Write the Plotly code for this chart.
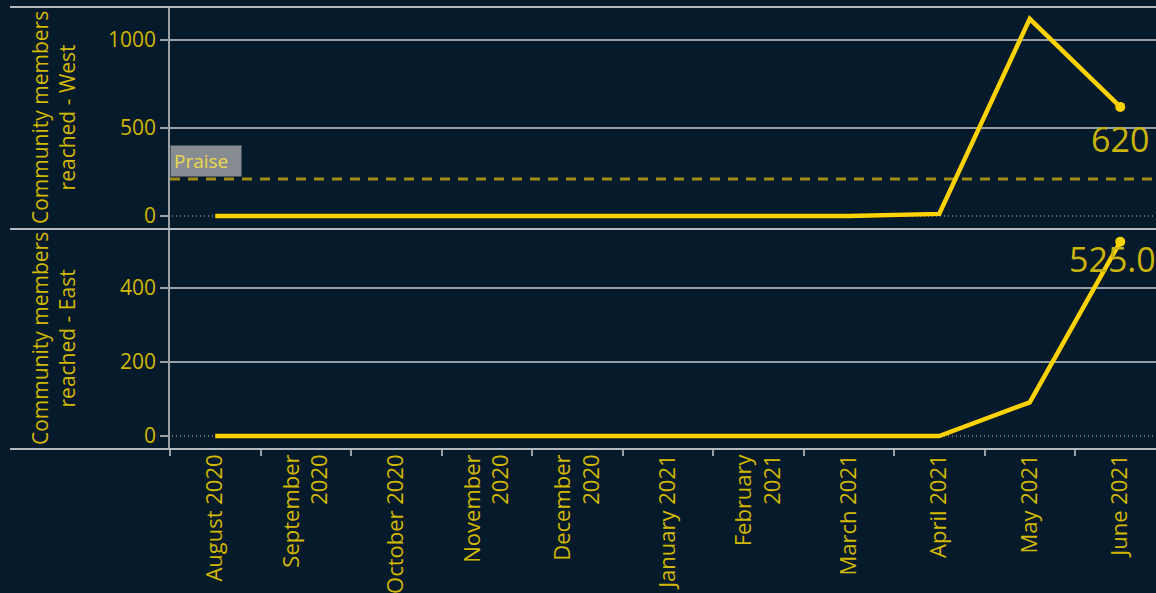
import plotly.graph_objects as go
from plotly.subplots import make_subplots

categories = ["August 2020", "September 2020", "October 2020", "November 2020",
              "December 2020", "January 2021", "February 2021", "March 2021",
              "April 2021", "May 2021", "June 2021"]
tick_labels = ["August 2020", "September<br>2020", "October 2020", "November<br>2020",
               "December<br>2020", "January 2021", "February<br>2021", "March 2021",
               "April 2021", "May 2021", "June 2021"]
west = [0, 0, 0, 0, 0, 0, 0, 0, 12, 1120, 620]
east = [0, 0, 0, 0, 0, 0, 0, 0, 0, 91, 525]
west_ticks = [0, 500, 1000]
east_ticks = [0, 200, 400]
praise_value = 210
west_label = "620"
east_label = "525.0"

BG = "#051a2a"
YEL = "#ffd200"
TXT = "#d2b800"
GRID = "#c9cdd1"
AXC = "#9aa0a6"
FONT = "Open Sans"

W, H = 1156, 593
ml, mr, mt, mb = 170, 0, 7, 144
plot_h = H - mt - mb
split = (449 - 229) / plot_h

fig = make_subplots(rows=2, cols=1, shared_xaxes=True, vertical_spacing=0)

fig.add_trace(go.Scatter(x=categories, y=west, mode="lines",
                         line=dict(color=YEL, width=4.5), hoverinfo="skip"), row=1, col=1)
fig.add_trace(go.Scatter(x=categories[-1:], y=west[-1:], mode="markers",
                         marker=dict(color=YEL, size=10), hoverinfo="skip"), row=1, col=1)
fig.add_trace(go.Scatter(x=categories, y=east, mode="lines",
                         line=dict(color=YEL, width=4.5), hoverinfo="skip"), row=2, col=1)
fig.add_trace(go.Scatter(x=categories[-1:], y=east[-1:], mode="markers",
                         marker=dict(color=YEL, size=10), hoverinfo="skip"), row=2, col=1)

xr = [-0.5, -0.5 + (W - ml - mr) / 90.5]
common_x = dict(type="category", categoryorder="array", categoryarray=categories,
                range=xr, showgrid=False, zeroline=False, showline=False)
fig.update_xaxes(**common_x)
fig.update_xaxes(showticklabels=False, ticks="", row=1, col=1)
fig.update_xaxes(tickmode="array", tickvals=categories, ticktext=tick_labels,
                 tickangle=-90, ticks="outside", tickson="boundaries", ticklen=6,
                 tickcolor=AXC, tickwidth=1.5,
                 tickfont=dict(family=FONT, size=22, color=TXT), row=2, col=1)

common_y = dict(showgrid=False, zeroline=False, showline=True, linecolor=AXC, linewidth=1.5,
                ticks="outside", ticklen=8, tickcolor=AXC, tickwidth=1.5,
                tickfont=dict(family=FONT, size=21, color=TXT))
fig.update_yaxes(range=[-73.9, 1187.5], tickvals=west_ticks, **common_y, row=1, col=1)
fig.update_yaxes(range=[-35.1, 559.5], tickvals=east_ticks, **common_y, row=2, col=1)
fig.update_layout(yaxis=dict(domain=[split, 1]), yaxis2=dict(domain=[0, split]))

# grid lines at non-zero ticks, dotted zero lines
for v in west_ticks:
    if v != 0:
        fig.add_shape(type="line", xref="paper", x0=0, x1=1, yref="y", y0=v, y1=v,
                      line=dict(color=GRID, width=1.5), layer="below")
for v in east_ticks:
    if v != 0:
        fig.add_shape(type="line", xref="paper", x0=0, x1=1, yref="y2", y0=v, y1=v,
                      line=dict(color=GRID, width=1.5), layer="below")
fig.add_shape(type="line", xref="paper", x0=0.002, x1=1, yref="y", y0=0, y1=0,
              line=dict(color="#d0d0d0", width=1.2, dash="1px,3px"), layer="below")
fig.add_shape(type="line", xref="paper", x0=0.002, x1=1, yref="y2", y0=0, y1=0,
              line=dict(color="#d0d0d0", width=1.2, dash="1px,3px"), layer="below")

# reference line
fig.add_shape(type="line", xref="paper", x0=0, x1=1, yref="y", y0=praise_value, y1=praise_value,
              line=dict(color="#a08c14", width=3, dash="10px,8px"), layer="below")
fig.add_annotation(xref="paper", x=0, xanchor="left", yref="y", y=praise_value, yanchor="bottom",
                   yshift=2, text="Praise", showarrow=False, bgcolor="#878c92",
                   width=64, height=24, borderpad=3, align="left",
                   font=dict(family=FONT, size=19, color="#ecd84a"))

# pane borders
x_left = (10 - ml) / (W - ml - mr)
for yp in [1, split, 0]:
    fig.add_shape(type="line", xref="paper", x0=x_left, x1=1, yref="paper", y0=yp, y1=yp,
                  line=dict(color="#b4babf", width=2), layer="above")

# axis titles
for txt, yc in [("Community members<br>reached - West", (split + 1) / 2),
                ("Community members<br>reached - East", split / 2)]:
    fig.add_annotation(xref="paper", x=(53 - ml) / (W - ml - mr), xanchor="center",
                       yref="paper", y=yc, yanchor="middle", text=txt, textangle=-90,
                       showarrow=False, font=dict(family=FONT, size=21, color=TXT))

# end labels
fig.add_annotation(x=categories[-1], y=west[-1], xref="x", yref="y", text=west_label,
                   showarrow=False, yanchor="middle", yshift=-32,
                   font=dict(family=FONT, size=34, color="#c9b40c"))
fig.add_annotation(x=categories[-1], y=east[-1], xref="x2", yref="y2", text=east_label,
                   showarrow=False, xanchor="left", xshift=-53, yanchor="middle", yshift=-17,
                   font=dict(family=FONT, size=34, color="#c9b40c"))

fig.update_layout(width=W, height=H, margin=dict(l=ml, r=mr, t=mt, b=mb),
                  paper_bgcolor=BG, plot_bgcolor=BG, showlegend=False,
                  font=dict(family=FONT, color=TXT))

fig.write_html("out.html", config={"displayModeBar": False},
               post_script="document.body.style.margin='0';document.body.style.overflow='hidden';document.body.style.background='#051a2a';")
